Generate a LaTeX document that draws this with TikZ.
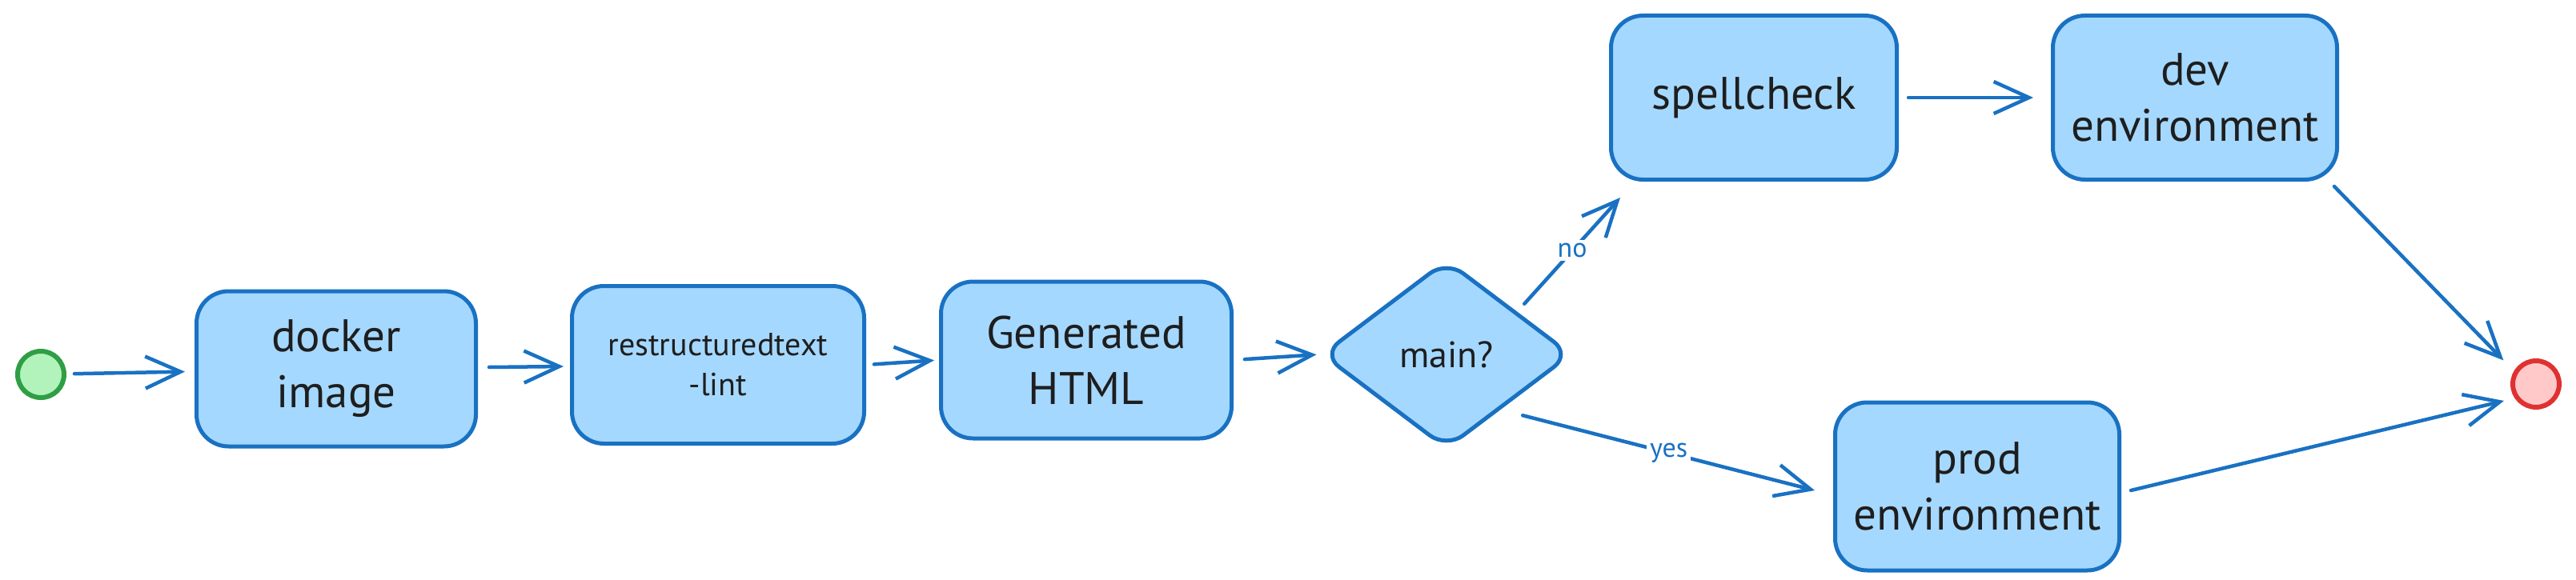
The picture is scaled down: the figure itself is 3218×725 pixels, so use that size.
\documentclass[tikz,border=0pt]{standalone}
\usepackage{fontspec}
\setmainfont{PT Sans}
\usetikzlibrary{arrows.meta,shapes.geometric,calc}
\definecolor{boxfill}{HTML}{A5D8FF}
\definecolor{boxline}{HTML}{1971C2}
\definecolor{startfill}{HTML}{B2F2BB}
\definecolor{startline}{HTML}{2F9E44}
\definecolor{endfill}{HTML}{FFC9C9}
\definecolor{endline}{HTML}{E03131}
\definecolor{ink}{HTML}{1E1E1E}
\begin{document}
\begin{tikzpicture}[x=1pt,y=-1pt,
  stepbox/.style={draw=boxline, fill=boxfill, line width=5pt, rounded corners=40pt,
    align=center, text=ink, inner sep=0pt, font=\fontsize{57}{70}\selectfont},
  smallbox/.style={stepbox, font=\fontsize{40}{50}\selectfont},
  decision/.style={diamond, draw=boxline, fill=boxfill, line width=5pt, rounded corners=26pt,
    text=ink, inner sep=0pt, minimum width=312pt, minimum height=236pt,
    font=\fontsize{46}{56}\selectfont},
  terminal/.style={circle, line width=6pt, minimum size=58pt, inner sep=0pt},
  flow/.style={draw=boxline, line width=4.5pt, line cap=round,
    -{Straight Barb[length=44pt,width=40pt,line width=4.5pt]}},
  lbl/.style={fill=white, text=boxline, inner sep=4pt, font=\fontsize{34}{40}\selectfont}
]
\useasboundingbox (0,0) rectangle (3218,725);

\node[terminal, draw=startline, fill=startfill] (start) at (51,468) {};
\node[stepbox, minimum width=349pt, minimum height=194pt] (docker) at (420,461) {docker\\image};
\node[smallbox, minimum width=365pt, minimum height=197pt] (rst) at (897,456) {restructuredtext\\-lint};
\node[stepbox, minimum width=363pt, minimum height=196pt] (gen) at (1357,450) {Generated\\HTML};
\node[decision] (main) at (1807,443) {main?};
\node[stepbox, minimum width=357pt, minimum height=205pt] (spell) at (2191,122) {spellcheck};
\node[stepbox, minimum width=355pt, minimum height=205pt] (dev) at (2742,122) {dev\\environment};
\node[stepbox, minimum width=355pt, minimum height=210pt] (prod) at (2470,608) {prod\\environment};
\node[terminal, draw=endline, fill=endfill] (end) at (3168,480) {};

\draw[flow, shorten <=10pt, shorten >=12pt] (start) -- (docker);
\draw[flow, shorten <=14pt, shorten >=8pt] (docker) -- (rst);
\draw[flow, shorten <=10pt, shorten >=6pt] (rst.east) -- (gen.west);
\draw[flow, shorten <=14pt, shorten >=4pt] (gen.east) -- (main.west);
\draw[flow] ([shift={(18,-3)}]main.north east) -- node[lbl]{no} ([shift={(14,20)}]spell.south west);
\draw[flow] ([shift={(16,16)}]main.south east) -- node[lbl]{yes} ([shift={(-23,5)}]prod.west);
\draw[flow, shorten <=12pt, shorten >=22pt] (spell.east) -- (dev.west);
\draw[flow] ([shift={(-6,6)}]dev.south east) -- ([shift={(-18,-7)}]end.north west);
\draw[flow] ([shift={(12,5)}]prod.east) -- ([shift={(-8,21)}]end.west);
\end{tikzpicture}
\end{document}
